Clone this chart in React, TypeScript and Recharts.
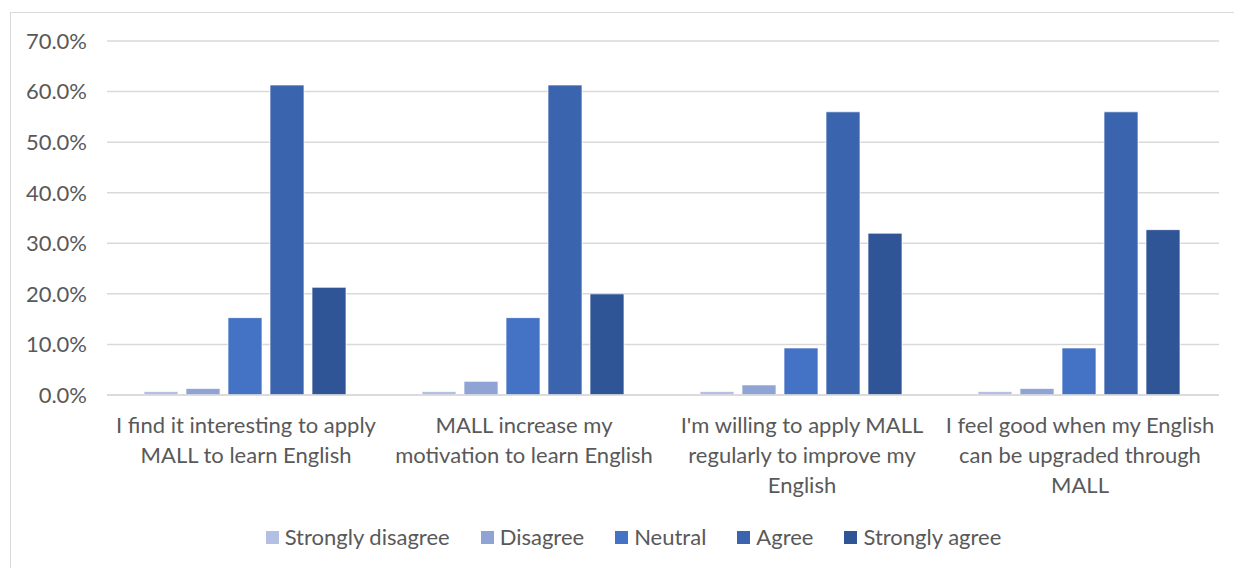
import React from 'react'
import { BarChart, Bar, XAxis, YAxis, CartesianGrid, Legend } from 'recharts'

// Survey statements (x categories), wrapped the way they are printed under the axis
const statements = [
  'I find it interesting to apply MALL to learn English',
  'MALL increase my motivation to learn English',
  "I'm willing to apply MALL regularly to improve my English",
  'I feel good when my English can be upgraded through MALL',
]
const statementLines = [
  ['I find it interesting to apply', 'MALL to learn English'],
  ['MALL increase my', 'motivation to learn English'],
  ["I'm willing to apply MALL", 'regularly to improve my', 'English'],
  ['I feel good when my English', 'can be upgraded through', 'MALL'],
]

// Share of respondents (%) per answer
const stronglyDisagree = [0.7, 0.7, 0.7, 0.7]
const disagree = [1.3, 2.7, 2.0, 1.3]
const neutral = [15.3, 15.3, 9.3, 9.3]
const agree = [61.3, 61.3, 56.0, 56.0]
const stronglyAgree = [21.3, 20.0, 32.0, 32.7]

const yTicks = [0, 10, 20, 30, 40, 50, 60, 70]

const series = [
  { key: 'sd', name: 'Strongly disagree', values: stronglyDisagree, color: '#b3c0e4' },
  { key: 'd', name: 'Disagree', values: disagree, color: '#8fa4d5' },
  { key: 'n', name: 'Neutral', values: neutral, color: '#4472c4' },
  { key: 'a', name: 'Agree', values: agree, color: '#3a64ad' },
  { key: 'sa', name: 'Strongly agree', values: stronglyAgree, color: '#2f5597' },
]

const data = statements.map((s, i) => {
  const row: Record<string, string | number> = { statement: s, idx: i }
  series.forEach((sr) => {
    row[sr.key] = sr.values[i]
  })
  return row
})

const FONT = 'Lato, "Open Sans", sans-serif'
const TEXT = '#595959'
const FONT_SIZE = 22

const StatementTick = ({ x, y, payload }: { x?: number; y?: number; payload?: { index: number } }) => {
  const lines = statementLines[payload?.index ?? 0]
  return (
    <g>
      {lines.map((line, i) => (
        <text
          key={i}
          x={x}
          y={(y ?? 0) + 21 + i * 30}
          textAnchor="middle"
          dominantBaseline="central"
          fill={TEXT}
          fontSize={FONT_SIZE}
          fontFamily={FONT}
        >
          {line}
        </text>
      ))}
    </g>
  )
}

const LegendRow = () => (
  <div
    style={{
      height: 40,
      display: 'flex',
      justifyContent: 'center',
      alignItems: 'flex-start',
      fontFamily: FONT,
      fontSize: FONT_SIZE,
      color: TEXT,
      lineHeight: '24px',
      paddingLeft: 5,
      boxSizing: 'border-box',
    }}
  >
    {series.map((s, i) => (
      <span
        key={s.key}
        style={{ display: 'flex', alignItems: 'center', marginRight: i < series.length - 1 ? 31 : 0 }}
      >
        <span style={{ width: 13, height: 13, background: s.color, marginRight: 6, display: 'inline-block' }} />
        {s.name}
      </span>
    ))}
  </div>
)

export default function App() {
  return (
    <div style={{ position: 'fixed', inset: 0, overflow: 'hidden', background: '#fff' }}>
      <div
        style={{
          position: 'absolute',
          left: 10,
          top: 12,
          width: 1240,
          height: 570,
          border: '1px solid #d9d9d9',
          background: '#fff',
        }}
      >
        <BarChart
          width={1240}
          height={570}
          data={data}
          margin={{ top: 28, right: 32, bottom: 0, left: 0 }}
          barCategoryGap={37}
          barGap={8}
        >
          <CartesianGrid vertical={false} stroke="#d9d9d9" strokeWidth={1.5} />
          <XAxis
            dataKey="statement"
            height={148}
            interval={0}
            tickLine={false}
            axisLine={{ stroke: '#d9d9d9', strokeWidth: 1.5 }}
            tick={<StatementTick />}
          />
          <YAxis
            width={96}
            domain={[0, 70]}
            ticks={yTicks}
            tickLine={false}
            axisLine={false}
            tickMargin={14}
            tickFormatter={(v: number) => `${v.toFixed(1)}%`}
            tick={{ fill: TEXT, fontSize: FONT_SIZE, fontFamily: FONT }}
          />
          <Legend
            content={<LegendRow />}
            wrapperStyle={{ top: 512, left: 0, width: 1240 }}
          />
          {series.map((s) => (
            <Bar
              key={s.key}
              dataKey={s.key}
              name={s.name}
              fill={s.color}
              stroke="#ffffff"
              strokeOpacity={0.7}
              strokeWidth={1}
              isAnimationActive={false}
            />
          ))}
        </BarChart>
      </div>
    </div>
  )
}
